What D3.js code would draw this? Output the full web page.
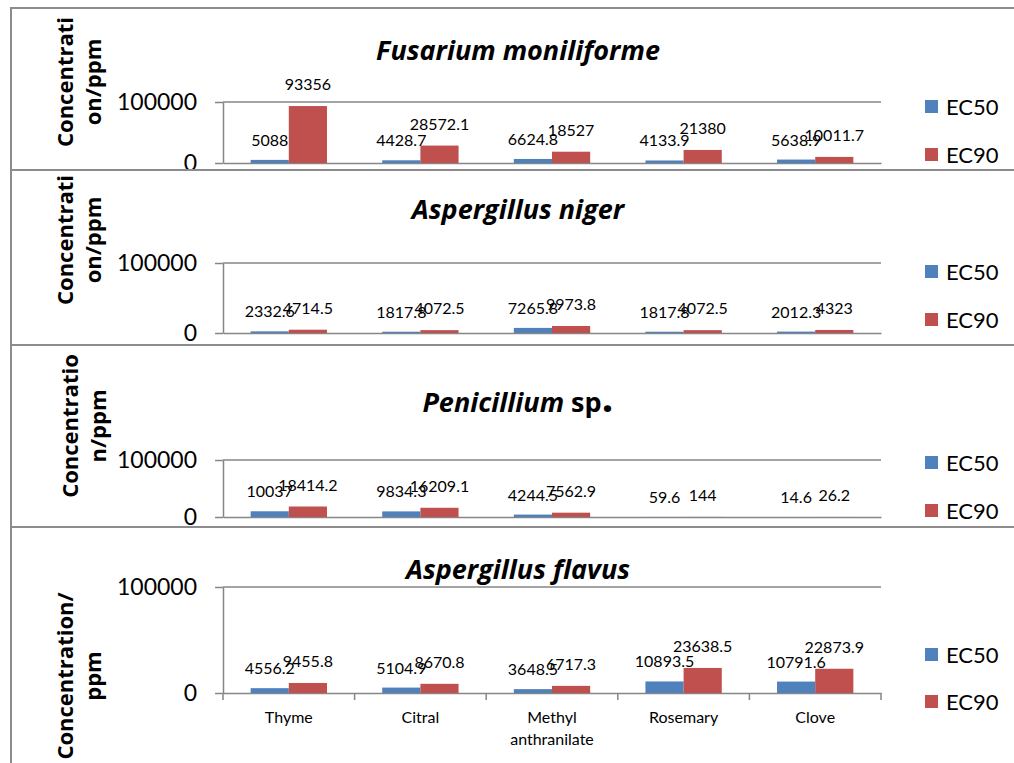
<!DOCTYPE html>
<html>
<meta charset="utf-8">
<style>
    body { margin: 0; background: #fff; }
    svg { display: block; }
</style>
<body>
<svg width="1014" height="763" font-family="Lato, sans-serif"></svg>
<script src="https://d3js.org/d3.v7.min.js"></script>
<script>

    // data
    let categories = ["Thyme", "Citral", "Methyl anthranilate", "Rosemary", "Clove"];
    let seriesNames = ["EC50", "EC90"];
    let yTicks = [0, 100000];

    let fusariumEC50 = [5088, 4428.7, 6624.8, 4133.9, 5638.9];
    let fusariumEC90 = [93356, 28572.1, 18527, 21380, 10011.7];
    let nigerEC50 = [2332.6, 1817.8, 7265.8, 1817.8, 2012.3];
    let nigerEC90 = [4714.5, 4072.5, 9973.8, 4072.5, 4323];
    let penicilliumEC50 = [10037, 9834.3, 4244.5, 59.6, 14.6];
    let penicilliumEC90 = [18414.2, 16209.1, 7562.9, 144, 26.2];
    let flavusEC50 = [4556.2, 5104.9, 3648.5, 10893.5, 10791.6];
    let flavusEC90 = [9455.8, 8670.8, 6717.3, 23638.5, 22873.9];

    let panels = [
        {italic: "Fusarium moniliforme", plain: "", ec50: fusariumEC50, ec90: fusariumEC90,
            yTitle: ["Concentrati", "on/ppm"]},
        {italic: "Aspergillus niger", plain: "", ec50: nigerEC50, ec90: nigerEC90,
            yTitle: ["Concentrati", "on/ppm"]},
        {italic: "Penicillium", plain: " sp", ec50: penicilliumEC50, ec90: penicilliumEC90,
            yTitle: ["Concentratio", "n/ppm"]},
        {italic: "Aspergillus flavus", plain: "", ec50: flavusEC50, ec90: flavusEC90,
            yTitle: ["Concentration/", "ppm"]}
    ];

    // layout of each panel (pixels)
    let layout = [
        {frameTop: 8, frameBottom: 170, top: 102, bottom: 163, titleY: 60, ytY: 82, ytX: 73, legY: [107, 155]},
        {frameTop: 170, frameBottom: 345, top: 263, bottom: 333, titleY: 219, ytY: 240, ytX: 73, legY: [272, 320]},
        {frameTop: 345, frameBottom: 527, top: 460, bottom: 517, titleY: 412, ytY: 426, ytX: 78, legY: [463, 511]},
        {frameTop: 527, frameBottom: 800, top: 587, bottom: 693, titleY: 579, ytY: 676, ytX: 73, legY: [655, 702]}
    ];

    let colors = ["#4F81BD", "#C0504D"];
    let gray = "#868686";
    let left = 223, right = 881;

    let svg = d3.select("svg");

    panels.forEach(function (p, i) {
        let L = layout[i];
        let g = svg.append("g");
        let last = i === panels.length - 1;

        let x0 = d3.scaleBand().domain(categories).range([left, right])
            .paddingInner(0.42).paddingOuter(0.21);
        let x1 = d3.scaleBand().domain(seriesNames).range([0, x0.bandwidth()]);
        let y = d3.scaleLinear().domain([0, 100000]).range([L.bottom, L.top]);

        // frame
        g.append("rect")
            .attr("x", 11).attr("y", L.frameTop)
            .attr("width", 1030).attr("height", L.frameBottom - L.frameTop)
            .attr("fill", "none").attr("stroke", "#8c8c8c").attr("stroke-width", 2);

        // gridline at top tick
        g.append("line")
            .attr("x1", left).attr("x2", right)
            .attr("y1", y(100000)).attr("y2", y(100000))
            .attr("stroke", gray).attr("stroke-width", 1.5);

        // y axis
        let ya = g.append("g")
            .attr("transform", "translate(" + left + ",0)")
            .call(d3.axisLeft(y).tickValues(yTicks).tickSize(8).tickSizeOuter(0).tickPadding(18)
                .tickFormat(d3.format("d")));
        ya.select(".domain").attr("stroke", gray).attr("stroke-width", 1.5);
        ya.selectAll(".tick line").attr("stroke", gray).attr("stroke-width", 1.5);
        ya.selectAll("text").attr("font-size", 23).attr("font-family", "Lato").attr("fill", "#000");

        // x axis (baseline)
        let xa = g.append("g")
            .attr("transform", "translate(0," + L.bottom + ")")
            .call(d3.axisBottom(x0).tickSize(0).tickSizeOuter(0).tickPadding(19));
        xa.select(".domain").attr("stroke", gray).attr("stroke-width", 1.5);
        if (last) {
            xa.selectAll(".tick text").attr("font-size", 16).attr("font-family", "Lato")
                .attr("fill", "#000")
                .each(function (d) {
                    let words = d.split(" ");
                    if (words.length > 1) {
                        let t = d3.select(this).text(null);
                        words.forEach(function (w, k) {
                            t.append("tspan").attr("x", 0).attr("dy", k === 0 ? "0.71em" : "1.35em").text(w);
                        });
                        t.attr("dy", null);
                    }
                });
            // boundary ticks
            let step = x0.step();
            let bounds = categories.map(function (c) { return x0(c) - step * 0.21; }).concat([right]);
            g.selectAll(".btick").data(bounds).enter().append("line")
                .attr("x1", function (d) { return d; }).attr("x2", function (d) { return d; })
                .attr("y1", L.bottom).attr("y2", L.bottom + 7)
                .attr("stroke", gray).attr("stroke-width", 1.5);
        } else {
            xa.selectAll(".tick text").remove();
        }

        // bars
        let rows = categories.map(function (c, k) {
            return {cat: c, vals: [{key: "EC50", value: p.ec50[k]}, {key: "EC90", value: p.ec90[k]}]};
        });
        let grp = g.append("g").selectAll("g").data(rows).enter().append("g")
            .attr("transform", function (d) { return "translate(" + x0(d.cat) + ",0)"; });
        grp.selectAll("rect").data(function (d) { return d.vals; }).enter().append("rect")
            .attr("x", function (d) { return x1(d.key); })
            .attr("y", function (d) { return y(d.value); })
            .attr("width", x1.bandwidth())
            .attr("height", function (d) { return L.bottom - y(d.value); })
            .attr("fill", function (d, k) { return colors[k]; });
        grp.selectAll("text").data(function (d) { return d.vals; }).enter().append("text")
            .attr("x", function (d) { return x1(d.key) + x1.bandwidth() / 2; })
            .attr("y", function (d, k) { return y(d.value) - (k === 0 ? 14 : 16); })
            .attr("text-anchor", "middle")
            .attr("font-size", 16)
            .attr("fill", "#000")
            .text(function (d) { return String(d.value); });

        // title
        let title = g.append("text")
            .attr("x", 518).attr("y", L.titleY)
            .attr("text-anchor", "middle")
            .attr("font-family", "Open Sans")
            .attr("font-size", 27).attr("font-weight", "bold").attr("fill", "#000");
        title.append("tspan").attr("font-style", "italic").text(p.italic);
        if (p.plain) {
            title.append("tspan").text(p.plain);
            title.append("tspan").attr("font-size", 42).text(".");
        }

        // y axis title
        let yt = g.append("text")
            .attr("transform", "translate(" + L.ytX + "," + L.ytY + ") rotate(-90)")
            .attr("text-anchor", "middle")
            .attr("font-family", "Open Sans")
            .attr("font-size", 22).attr("font-weight", "bold").attr("fill", "#000");
        p.yTitle.forEach(function (line, k) {
            yt.append("tspan").attr("x", 0).attr("y", k * 28).text(line);
        });

        // legend
        let leg = g.append("g").selectAll("g").data(seriesNames).enter().append("g")
            .attr("transform", function (d, k) { return "translate(925," + L.legY[k] + ")"; });
        leg.append("rect").attr("x", 0).attr("y", -7).attr("width", 13).attr("height", 13)
            .attr("fill", function (d, k) { return colors[k]; });
        leg.append("text").attr("x", 21).attr("y", 0).attr("dy", "0.35em")
            .attr("font-size", 22).attr("fill", "#000")
            .text(function (d) { return d; });
    });

</script>
</body>
</html>
